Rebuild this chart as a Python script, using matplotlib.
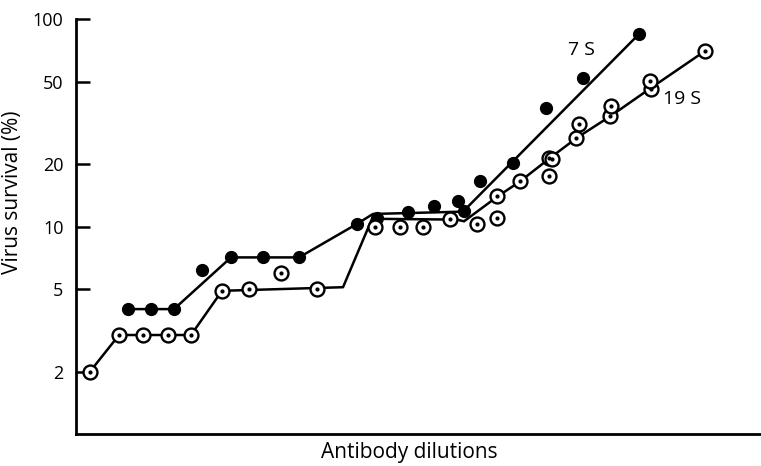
import matplotlib.pyplot as plt
from matplotlib.ticker import FixedLocator, NullLocator, FixedFormatter

plt.rcParams['font.family'] = ['Open Sans', 'DejaVu Sans']

# --- 7 S antibody (filled circles) ---
x_7s = [5.2, 7.5, 9.8, 12.6, 15.5, 18.7, 22.3, 28.1, 30.1, 33.2, 35.8, 38.2,
        38.8, 40.4, 43.7, 47.0, 50.7, 56.3]
y_7s = [4.0, 4.0, 4.0, 6.2, 7.1, 7.1, 7.1, 10.3, 11.0, 11.7, 12.5, 13.3,
        11.9, 16.6, 20.3, 37.3, 52.0, 84.7]

# --- 19 S antibody (open circles) ---
x_19s = [1.4, 4.3, 6.7, 9.2, 11.5, 14.6, 17.3, 20.5, 24.1, 29.9, 32.4, 34.7,
         37.4, 40.1, 42.1, 42.1, 44.4, 47.3, 47.3, 47.6, 50.0, 50.3, 53.4,
         53.5, 57.5, 57.4, 62.9]
y_19s = [2.0, 3.0, 3.0, 3.0, 3.0, 4.9, 5.0, 6.0, 5.0, 9.9, 9.9, 9.9,
         10.9, 10.3, 11.0, 14.1, 16.5, 17.6, 21.5, 21.2, 26.8, 31.3, 34.2,
         38.2, 46.1, 50.3, 70.2]

# fitted curves drawn through the points
fit_7s_x = [5.2, 9.8, 15.5, 22.3, 28.1, 29.7, 38.7, 56.3]
fit_7s_y = [4.0, 4.0, 7.1, 7.1, 10.3, 11.5, 11.8, 84.7]
fit_19s_x = [1.4, 4.3, 11.5, 14.6, 26.7, 29.6, 38.1, 38.8, 42.1, 44.4, 47.4,
             50.1, 53.5, 57.5, 62.9]
fit_19s_y = [2.0, 3.0, 3.0, 4.9, 5.1, 10.9, 10.8, 10.6, 13.9, 16.5, 21.4,
             26.8, 34.2, 46.6, 70.2]

yticks = [2, 5, 10, 20, 50, 100]

fig = plt.figure(figsize=(7.61, 4.66), dpi=100)
ax = fig.add_axes([0.0999, 0.0687, 0.9001, 0.8903])

ax.plot(fit_7s_x, fit_7s_y, color='black', lw=1.8, zorder=2)
ax.plot(fit_19s_x, fit_19s_y, color='black', lw=1.8, zorder=2)

ax.plot(x_7s, y_7s, 'o', ms=8.5, color='black', zorder=3)
ax.plot(x_19s, y_19s, 'o', ms=10, mfc='white', mec='black', mew=1.7, zorder=4)
ax.plot(x_19s, y_19s, 'o', ms=2, color='black', zorder=5)

ax.text(50.5, 71, '7 S', fontsize=14, ha='center', va='center')
ax.text(60.6, 41.4, '19 S', fontsize=14, ha='center', va='center')

ax.set_yscale('log')
ax.set_ylim(1, 100)
ax.set_xlim(0, 68.5)
ax.yaxis.set_major_locator(FixedLocator(yticks))
ax.yaxis.set_major_formatter(FixedFormatter([str(t) for t in yticks]))
ax.yaxis.set_minor_locator(NullLocator())
ax.xaxis.set_major_locator(NullLocator())
ax.tick_params(axis='y', direction='in', length=10, width=1.8, labelsize=13, pad=9)

ax.spines['top'].set_visible(False)
ax.spines['right'].set_visible(False)
ax.spines['left'].set_linewidth(2)
ax.spines['bottom'].set_linewidth(2)

ax.set_ylabel('Virus survival (%)', fontsize=15)
ax.set_xlabel('Antibody dilutions', fontsize=15)
ax.yaxis.set_label_coords(-0.077, 0.583)
ax.xaxis.set_label_coords(0.486, -0.02)

fig.savefig('out.png', dpi=100)
